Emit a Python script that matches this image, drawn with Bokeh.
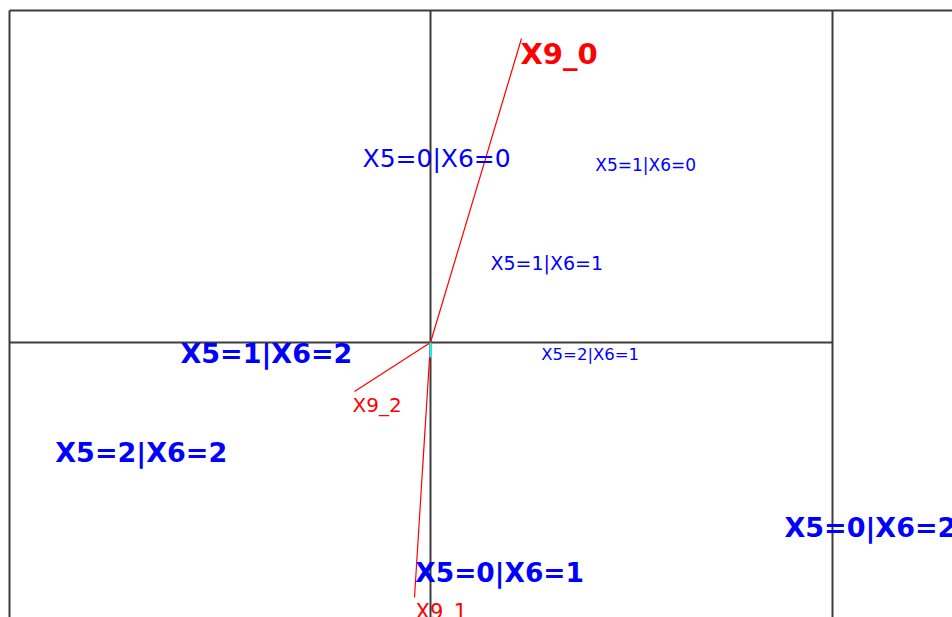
from bokeh.plotting import figure
from bokeh.models import Range1d
from bokeh.embed import file_html
from bokeh.resources import INLINE
from bokeh.core.properties import value

# Category points (dimension 1, dimension 2) — text label left edge / middle
cat_labels = ["X5=0|X6=0", "X5=1|X6=0", "X5=1|X6=1", "X5=2|X6=1",
              "X5=1|X6=2", "X5=2|X6=2", "X5=0|X6=1", "X5=0|X6=2"]
cat_dim1 = [-0.170, 0.412, 0.150, 0.277, -0.625, -0.938, -0.038, 0.885]
cat_dim2 = [0.460, 0.445, 0.198, -0.030, -0.028, -0.275, -0.575, -0.463]
cat_weight = [25, 17, 19, 16.5, 27, 27, 26.5, 27]   # text size in px
cat_bold = [False, False, False, False, True, True, True, True]

# Variable arrows (X9 levels)
var_labels = ["X9_0", "X9_2", "X9_1"]
var_dim1 = [0.2275, -0.190, -0.040]
var_dim2 = [0.760, -0.1225, -0.6375]
var_label_dim1 = [0.225, -0.195, -0.0375]
var_label_dim2 = [0.7225, -0.155, -0.6725]
var_size = [29, 20, 21]
var_bold = [True, False, False]

# Supplementary short arrow
sup_dim1 = [0.0]
sup_dim2 = [-0.0375]

# Frame / reference lines
frame_left, frame_right, frame_top = -1.0525, 1.005, 0.830

p = figure(width=952, height=617, output_backend="svg", toolbar_location=None,
           x_axis_type=None, y_axis_type=None, min_border=0,
           x_range=Range1d(-1.075, 1.305), y_range=Range1d(-0.6875, 0.855))
p.grid.visible = False
p.outline_line_color = None
p.background_fill_color = "white"

lc = "#3c3c3c"
lw = 2
p.segment(x0=[frame_left], y0=[frame_top], x1=[1.40], y1=[frame_top], line_color=lc, line_width=lw)
p.segment(x0=[frame_left], y0=[0], x1=[frame_right], y1=[0], line_color=lc, line_width=lw)
p.segment(x0=[frame_left, 0, frame_right], y0=[frame_top] * 3,
          x1=[frame_left, 0, frame_right], y1=[-0.8] * 3, line_color=lc, line_width=lw)

p.segment(x0=[0] * 3, y0=[0] * 3, x1=var_dim1, y1=var_dim2, line_color="#ff0000", line_width=1.2)
p.segment(x0=[0], y0=[0], x1=sup_dim1, y1=sup_dim2, line_color="#00ffff", line_width=2)

for lab, x, y, s, b in zip(cat_labels, cat_dim1, cat_dim2, cat_weight, cat_bold):
    p.text(x=[x], y=[y], text=[lab], text_color="#0000ff", text_font=value("DejaVu Sans"),
           text_font_size=f"{s}px", text_font_style="bold" if b else "normal",
           text_align="left", text_baseline="middle")

for lab, x, y, s, b in zip(var_labels, var_label_dim1, var_label_dim2, var_size, var_bold):
    p.text(x=[x], y=[y], text=[lab], text_color="#ff0000", text_font=value("DejaVu Sans"),
           text_font_size=f"{s}px", text_font_style="bold" if b else "normal",
           text_align="left", text_baseline="middle")

open("out.html", "w").write(file_html(p, INLINE))
